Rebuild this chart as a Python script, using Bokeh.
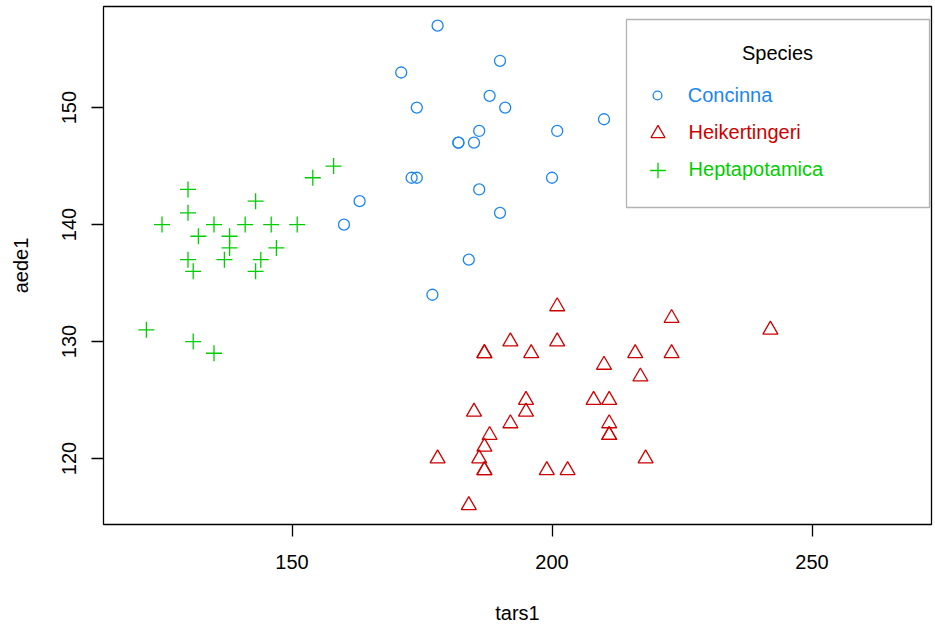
from bokeh.plotting import figure
from bokeh.models import (FixedTicker, Range1d, Legend, LegendItem, BoxAnnotation, Label)
from bokeh.embed import file_html
from bokeh.resources import INLINE

# ---- data (flea beetles: tars1 vs aede1) ----
conc_tars1 = [191, 185, 200, 173, 171, 160, 188, 186, 174, 163, 190, 174, 201, 190, 182, 184, 177, 178, 210, 182, 186]
conc_aede1 = [150, 147, 144, 144, 153, 140, 151, 143, 150, 142, 141, 144, 148, 154, 147, 137, 134, 157, 149, 147, 148]

heik_tars1 = [186, 211, 201, 242, 184, 211, 217, 223, 208, 199, 211, 218, 203, 192, 195, 211,
              187, 192, 223, 188, 216, 185, 178, 187, 187, 201, 187, 210, 196, 195, 187]
heik_aede1 = [120, 123, 130, 131, 116, 122, 127, 132, 125, 119, 122, 120, 119, 123, 125, 125,
              129, 130, 129, 122, 129, 124, 120, 119, 119, 133, 121, 128, 129, 124, 129]

hept_tars1 = [158, 146, 151, 122, 138, 132, 131, 135, 125, 130, 130, 138, 130, 143, 154, 147,
              141, 131, 144, 137, 143, 135]
hept_aede1 = [145, 140, 140, 131, 139, 139, 136, 129, 140, 137, 141, 138, 143, 142, 144, 138,
              140, 130, 137, 137, 136, 140]

species = ["Concinna", "Heikertingeri", "Heptapotamica"]
colors = ["#1C86EE", "#CD0000", "#00CD00"]
x_ticks = [150, 200, 250]
y_ticks = [120, 130, 140, 150]

FONT = "Liberation Sans"
FS = "20px"

p = figure(width=935, height=626, output_backend="svg", toolbar_location=None,
           x_range=Range1d(113.75, 272.98), y_range=Range1d(114.36, 158.64),
           min_border_left=103, min_border_right=4, min_border_top=6, min_border_bottom=101,
           background_fill_color="white", border_fill_color="white")
p.grid.visible = False
p.outline_line_color = "black"
p.outline_line_width = 1.3

for ax in (p.xaxis[0], p.yaxis[0]):
    ax.axis_line_color = None
    ax.major_tick_line_color = "black"
    ax.major_tick_line_width = 1.3
    ax.major_tick_in = 0
    ax.major_tick_out = 12
    ax.minor_tick_line_color = None
    ax.major_label_text_font = FONT
    ax.major_label_text_font_size = FS
    ax.major_label_text_color = "black"
    ax.axis_label_text_font = FONT
    ax.axis_label_text_font_size = FS
    ax.axis_label_text_font_style = "normal"
    ax.axis_label_text_color = "black"

p.xaxis.ticker = FixedTicker(ticks=x_ticks)
p.yaxis.ticker = FixedTicker(ticks=y_ticks)
p.xaxis.axis_label = "tars1"
p.yaxis.axis_label = "aede1"
p.xaxis.major_label_standoff = 18
p.xaxis.axis_label_standoff = 30
p.yaxis.major_label_standoff = 15
p.yaxis.axis_label_standoff = 28
p.yaxis.major_label_orientation = "vertical"

r_conc = p.scatter(conc_tars1, conc_aede1, marker="circle", size=11, fill_color=None,
                   line_color=colors[0], line_width=1.3)
r_heik = p.scatter(heik_tars1, heik_aede1, marker="triangle", size=15, fill_color=None,
                   line_color=colors[1], line_width=1.3)
r_hept = p.scatter(hept_tars1, hept_aede1, marker="cross", size=16, fill_color=None,
                   line_color=colors[2], line_width=1.3)

# legend frame and title (screen units relative to the plot frame)
box = BoxAnnotation(left=523, right=826, top=505, bottom=317,
                    left_units="screen", right_units="screen", top_units="screen", bottom_units="screen",
                    fill_alpha=0, fill_color=None, line_color="black", line_width=1.3)
p.add_layout(box)
p.add_layout(Label(x=674, y=472, x_units="screen", y_units="screen", text="Species",
                   text_align="center", text_baseline="middle", text_font=FONT,
                   text_font_size=FS, text_color="black"))

leg_specs = [
    (species[0], r_conc, colors[0], 22.5, 542.75, 19.75, 409.0),
    (species[1], r_heik, colors[1], 35.0, 536.5, 13.5, 371.3),
    (species[2], r_hept, colors[2], 38.75, 534.6, 11.6, 334.3),
]
for name, rend, col, gw, lx, stand, ly in leg_specs:
    lg = Legend(items=[LegendItem(label=name, renderers=[rend])], location=(lx, ly),
                glyph_width=int(round(gw)), glyph_height=40, label_height=40,
                label_standoff=int(round(stand)), padding=0, margin=0, spacing=0,
                border_line_color=None, background_fill_alpha=0,
                label_text_font=FONT, label_text_font_size=FS, label_text_color=col,
                label_text_baseline="middle")
    p.add_layout(lg, "center")

open("out.html", "w").write(file_html(p, INLINE))
